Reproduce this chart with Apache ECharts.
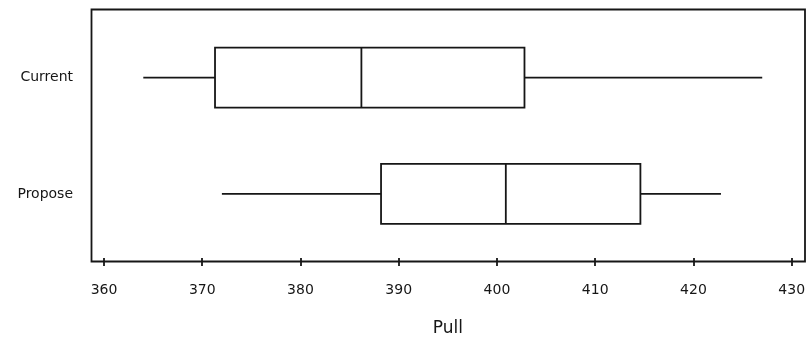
<!DOCTYPE html>
<html>
<head>
<meta charset="utf-8">
<script src="https://cdn.jsdelivr.net/npm/echarts@6/dist/echarts.min.js"></script>
<style>
  html, body { margin: 0; padding: 0; background: #fff; }
  #chart { width: 809px; height: 342px; }
</style>
</head>
<body>
<div id="chart"></div>
<script>
// Groups, top to bottom
const groups = ['Current', 'Propose'];
// Five-number summaries: [min, Q1, median, Q3, max]
const currentStats = [364.0, 371.3, 386.2, 402.8, 427.0];
const proposeStats = [372.0, 388.2, 400.9, 414.6, 422.8];
// Pull axis ticks
const pullMin = 360;
const pullMax = 430;
const pullStep = 10;
const axisTitle = 'Pull';

const ink = '#161616';
const font = 'DejaVu Sans';
const boxHeight = 60;

// one row per group: [groupIndex, min, Q1, median, Q3, max]
const boxRows = [currentStats, proposeStats].map((s, i) => [i].concat(s));

// Box with plain whiskers (no end caps)
function renderBox(params, api) {
  const g = api.value(0);
  const pMin = api.coord([api.value(1), g]);
  const pQ1 = api.coord([api.value(2), g]);
  const pMed = api.coord([api.value(3), g]);
  const pQ3 = api.coord([api.value(4), g]);
  const pMax = api.coord([api.value(5), g]);
  const y = pQ1[1];
  const half = boxHeight / 2;
  const style = { stroke: ink, lineWidth: 1.8, fill: null };
  return {
    type: 'group',
    children: [
      { type: 'line', shape: { x1: pMin[0], y1: y, x2: pQ1[0], y2: y }, style },
      { type: 'line', shape: { x1: pQ3[0], y1: y, x2: pMax[0], y2: y }, style },
      { type: 'rect', shape: { x: pQ1[0], y: y - half, width: pQ3[0] - pQ1[0], height: boxHeight },
        style: { stroke: ink, lineWidth: 1.8, fill: '#fff' } },
      { type: 'line', shape: { x1: pMed[0], y1: y - half, x2: pMed[0], y2: y + half }, style }
    ]
  };
}

const chart = echarts.init(document.getElementById('chart'), null, { renderer: 'canvas' });

chart.setOption({
  backgroundColor: '#fff',
  animation: false,
  grid: [
    // plotting grid
    { left: 104, right: 17.3, top: 19.5, bottom: 87 },
    // surrounding frame
    { left: 91.5, right: 4, top: 9.5, bottom: 80.5, show: true,
      borderColor: ink, borderWidth: 1.8, backgroundColor: 'transparent' }
  ],
  xAxis: [
    {
      type: 'value', gridIndex: 0, position: 'bottom', offset: 6,
      min: pullMin, max: pullMax, interval: pullStep,
      axisLine: { show: false },
      axisTick: { show: true, length: 8, lineStyle: { color: ink, width: 1.8 } },
      axisLabel: { color: ink, fontFamily: font, fontSize: 14, margin: 25 },
      splitLine: { show: false },
      name: axisTitle, nameLocation: 'middle', nameGap: 62,
      nameTextStyle: { color: ink, fontFamily: font, fontSize: 17 }
    },
    { type: 'value', gridIndex: 1, show: false, min: 0, max: 1 }
  ],
  yAxis: [
    {
      type: 'category', gridIndex: 0, data: groups, inverse: true,
      axisLine: { show: false },
      axisTick: { show: false },
      axisLabel: { color: ink, fontFamily: font, fontSize: 14, margin: 31 },
      splitLine: { show: false }
    },
    { type: 'value', gridIndex: 1, show: false, min: 0, max: 1 }
  ],
  series: [
    {
      type: 'custom',
      xAxisIndex: 0, yAxisIndex: 0,
      renderItem: renderBox,
      encode: { x: [1, 2, 3, 4, 5], y: 0 },
      data: boxRows
    }
  ]
});
</script>
</body>
</html>
